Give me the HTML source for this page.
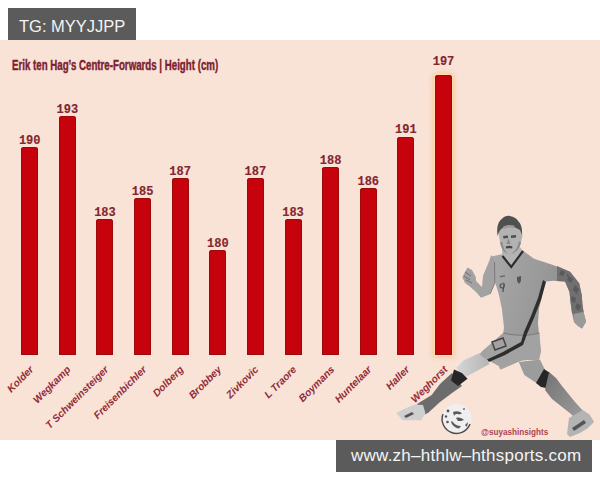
<!DOCTYPE html>
<html><head><meta charset="utf-8">
<style>
html,body{margin:0;padding:0;width:600px;height:480px;overflow:hidden;background:#fff;}
body{position:relative;font-family:"Liberation Sans",sans-serif;}
#bg{position:absolute;left:0;top:40px;width:600px;height:400px;background:#f9e2d6;overflow:hidden;}
.box{position:absolute;background:#5b5b5b;color:#f4f4f4;font-size:17px;line-height:32px;white-space:nowrap;}
#tg{left:8px;top:8px;width:128px;height:32px;}
#tg span{position:absolute;left:11px;top:1.5px;font-size:16.5px;}
#www{left:336px;top:440px;width:256px;height:32px;}
#www span{position:absolute;left:15px;top:0;letter-spacing:0.25px;}
.bar{position:absolute;width:17px;background:#c6020c;border-radius:3px 3px 0 0;box-shadow:inset 0 0 0 1px #9c0a0c;}
.glow{box-shadow:0 0 1px 1px rgba(255,225,170,1), 0 0 4px 2.5px rgba(255,195,150,0.85), inset 0 0 0 1px #9c0a0c;}
.val{position:absolute;width:30px;text-align:center;font-family:"Liberation Mono",monospace;font-weight:bold;font-size:12px;line-height:12px;color:#842630;-webkit-text-stroke:0.15px #842630;}
.nm{position:absolute;width:200px;text-align:right;font-weight:bold;font-style:italic;font-size:10.2px;line-height:10px;color:#922c38;transform-origin:100% 50%;transform:rotate(-45deg);white-space:nowrap;}
#title{position:absolute;left:12px;top:56.7px;font-weight:bold;font-size:14px;line-height:16px;color:#802030;-webkit-text-stroke:0.4px #7c2030;color:#7c2030;white-space:nowrap;transform-origin:0 0;transform:scaleX(0.693);}
#handle{position:absolute;left:480.5px;top:427px;font-weight:bold;font-size:9px;line-height:10px;color:#b0444f;white-space:nowrap;transform-origin:0 0;transform:scaleX(0.905);}
</style></head><body>
<div id="bg"></div>
<div id="title">Erik ten Hag’s Centre-Forwards | Height (cm)</div>
<div class="bar" style="left:21.20px;top:146.84px;height:208.16px"></div>
<div class="val" style="left:14.70px;top:134.64px">190</div>
<div class="nm" style="left:-168.30px;top:363.00px">Kolder</div>
<div class="bar" style="left:58.82px;top:115.95px;height:239.05px"></div>
<div class="val" style="left:52.32px;top:103.75px">193</div>
<div class="nm" style="left:-130.68px;top:363.00px">Wegkamp</div>
<div class="bar" style="left:96.44px;top:218.91px;height:136.09px"></div>
<div class="val" style="left:89.94px;top:206.71px">183</div>
<div class="nm" style="left:-93.06px;top:363.00px">T Schweinsteiger</div>
<div class="bar" style="left:134.06px;top:198.32px;height:156.68px"></div>
<div class="val" style="left:127.56px;top:186.12px">185</div>
<div class="nm" style="left:-55.44px;top:363.00px">Freisenbichler</div>
<div class="bar" style="left:171.68px;top:177.73px;height:177.27px"></div>
<div class="val" style="left:165.18px;top:165.53px">187</div>
<div class="nm" style="left:-17.82px;top:363.00px">Dolberg</div>
<div class="bar" style="left:209.30px;top:249.80px;height:105.20px"></div>
<div class="val" style="left:202.80px;top:237.60px">180</div>
<div class="nm" style="left:19.80px;top:363.00px">Brobbey</div>
<div class="bar" style="left:246.92px;top:177.73px;height:177.27px"></div>
<div class="val" style="left:240.42px;top:165.53px">187</div>
<div class="nm" style="left:57.42px;top:363.00px">Zivkovic</div>
<div class="bar" style="left:284.54px;top:218.91px;height:136.09px"></div>
<div class="val" style="left:278.04px;top:206.71px">183</div>
<div class="nm" style="left:95.04px;top:363.00px">L Traore</div>
<div class="bar" style="left:322.16px;top:167.43px;height:187.57px"></div>
<div class="val" style="left:315.66px;top:155.23px">188</div>
<div class="nm" style="left:132.66px;top:363.00px">Boymans</div>
<div class="bar" style="left:359.78px;top:188.02px;height:166.98px"></div>
<div class="val" style="left:353.28px;top:175.82px">186</div>
<div class="nm" style="left:170.28px;top:363.00px">Huntelaar</div>
<div class="bar" style="left:397.40px;top:136.54px;height:218.46px"></div>
<div class="val" style="left:390.90px;top:124.34px">191</div>
<div class="nm" style="left:207.90px;top:363.00px">Haller</div>
<div class="bar glow" style="left:435.02px;top:74.77px;height:280.23px"></div>
<div class="val" style="left:428.52px;top:56.47px">197</div>
<div class="nm" style="left:245.52px;top:363.00px">Weghorst</div>
<svg id="player" width="600" height="480" viewBox="0 0 600 480" style="position:absolute;left:0;top:0">
<defs>
<linearGradient id="thighL" x1="0" y1="0" x2="1" y2="0"><stop offset="0" stop-color="#d6d6d6"/><stop offset="1" stop-color="#b4b4b4"/></linearGradient>
<linearGradient id="shirt" x1="0" y1="0" x2="1" y2="0.3"><stop offset="0" stop-color="#ababab"/><stop offset="0.6" stop-color="#999999"/><stop offset="1" stop-color="#868686"/></linearGradient>
<linearGradient id="calfR" x1="0" y1="0" x2="1" y2="1"><stop offset="0" stop-color="#747474"/><stop offset="1" stop-color="#9e9e9e"/></linearGradient>
</defs>
<g stroke="none">
<!-- left shin + boot -->
<path fill="#6c6c6c" d="M452,373 L440,384 L431.7,395 L417,404 L421,416 L428,413 L440,402 L452,393 L462,386 Z"/>
<path fill="#cfcfcf" d="M415,404.6 L404,409 L396.25,413 L402.5,420.2 L421.25,420.2 L425.4,413 L423,405 Z"/>
<path fill="#555" d="M404,416 L412,412 L414,414 L406,418 Z"/>
<!-- left thigh -->
<path fill="url(#thighL)" d="M482,352 L463.8,360.3 L456.5,367.7 L462,378.7 L469.3,375 L489.5,364 Z"/>
<path fill="#262626" d="M454,369.5 L451,380.5 L458,386 L467.5,378.7 L462,373 Z"/>
<!-- right leg -->
<path fill="#9c9c9c" d="M518.8,362 L540,359.4 L545,370 L541,386 L535.3,382.3 L524.3,375 Z"/>
<path fill="#262626" d="M544,369 L550,373 L546,388 L541,387 L536,383 Z"/>
<path fill="url(#calfR)" d="M549,372 L556,378 L562,386 L575,402 L585,413 L578,421 L570.7,413.7 L552,399 L545,390 Z"/>
<path fill="#b4b4b4" d="M583,410 L590,415 L594,422 L588,428 L580,433 L570,437 L567,434 L569,418 Z"/>
<path fill="#555" d="M572,428 L584,420 L586,423 L574,431 Z"/>
<!-- torso + right arm -->
<path fill="url(#shirt)" d="M490.4,256.7 L502.9,254 L511.25,262 L522.7,250.4 L534,258.75 L553,265 L570,271.7 L579.2,283.3 L581.7,295 L582.5,305 L584,314 L586,321.7 L582,328.5 L578,326 L574,322 L572,313 L570.5,302 L569.5,292 L565,281.5 L553,280.8 L544.6,281.7 L542.5,294 L539,308.75 L538,323 L539,334.7 L540.8,351.2 L539,359.4 L522.5,360.3 L517,362.2 L500.5,369.5 L498.7,365.8 L486.75,359.4 L480.3,354.8 L482.2,351.2 L503,334.7 L504,327.5 L501.9,308.75 L498.75,294 L493.5,277.5 Z"/>
<path fill="#a2a2a2" d="M503,333 L482.2,351.2 L480.3,354.8 L486.75,359.4 L498.7,365.8 L500.5,369.5 L517,362.2 L522.5,360.3 L539,359.4 L540.8,351.2 L539.5,333 C530,336 515,336 503,333 Z"/>
<path fill="none" stroke="#7a7a7a" stroke-width="1" d="M503.5,333 C515,336 530,336 539.5,333"/>
<!-- tattoo arm shading -->
<path fill="#707070" d="M557,266 L570,271.7 L579.2,283.3 L581.7,295 L582.5,305 L583.5,312 L574,314 L572,313 L570.5,302 L569.5,292 L565,281.5 L557,281 Z"/>
<path fill="#5a5a5a" d="M561,270 L565,272 L563,276 L559,275 Z M569,276 L573,279 L571,283 L567,280 Z M575,285 L579,289 L577,294 L573,290 Z M572,296 L576,298 L575,303 L571,301 Z M577,303 L581,306 L579,311 L575,308 Z M566,274 L569,275 L568,278 Z"/>
<path fill="#9a9a9a" d="M574,314 L583.5,312 L586,321.7 L582,328.5 L578,326 L574,322 Z"/>
<!-- left arm -->
<path fill="#a2a2a2" d="M491.5,255 L488.3,263.3 L483,275.8 L482,287 L476,281 L475.8,277 L472,270 L467.5,267.5 L462.3,277 L465,283 L469.6,286.25 L476,292 L481,297.7 L489.4,294.6 L494.6,283 L495,262 Z"/>
<path fill="none" stroke="#7a7a7a" stroke-width="1" d="M494.5,262 L494.8,283 L490,294"/>
<path fill="none" stroke="#6a6a6a" stroke-width="0.9" d="M465,272 L471,276 M464,276 L470,280 M466,280 L472,283"/>
<!-- shirt details -->
<path fill="none" stroke="#555" stroke-width="1.3" d="M503,284 C500,283 499,287 502,288 C504,288 505,286 504,284 L503,292"/>
<path fill="#555" d="M517,277 L521,276 L521,281 L519,284 L517,281 Z"/>
<path fill="#6a6a6a" d="M500,276 L505,275 L505,276.5 L500,277.5 Z"/>
<!-- side stripe -->
<path fill="#2e2e2e" d="M543,280 L546,282 L541,300 L534,318 L527,334 L523,345 L505,355 L489,362 L487,359.5 L503,352 L521,342 L524,332 L531,316 L538,298 Z"/>
<!-- number patch -->
<path fill="none" stroke="#444" stroke-width="1.5" d="M492,342 L503,338 L506,346 L495,350 Z"/>
<!-- neck -->
<path fill="#b4b4b4" d="M502,248 L519,246 L523,251 L511.25,266 L502,255 Z"/>
<path fill="none" stroke="#2e2e2e" stroke-width="2.2" d="M502.5,256 L511.25,267 L523,251"/>
<!-- head -->
<path fill="#b2b2b2" d="M497.9,231 C498,224 503,221 510,221 C517,221 521,225 521.5,231 L522.5,236 L521,242 C520,249 515,254 509.1,254.5 C504,254 501,249 500.1,241.7 Z"/>
<path fill="#8c8c8c" d="M500,242 C501,248 504,253 509,254.5 C505,252 503,247 502.5,242 Z M519,241 C518,247 515,252 511,254 C516,253 520,248 521,242 Z"/>
<path fill="#505050" d="M497.5,236 C496.5,228 498,222 501.2,219.5 C504,216.5 507,215.5 509.7,215.9 C514,216.5 517,218.5 518.5,221.5 C521,224 522.5,228 522,235 L520,230 C516,227 511,226 505,227 C501,228 499,231 497.5,236 Z"/>
<path fill="#9a9a9a" d="M503,226.5 C506,225 510,224.5 514,225.5 L515,228 C511,227 507,227.5 504,229 Z"/>
<path fill="#4e4e4e" d="M503,236 L508,235.5 L508,238 L503.5,238.5 Z M511,235.5 L516,235 L516,237.5 L511,238 Z"/>
<path fill="#8a8a8a" d="M508.5,238 L510.5,244 L506.5,244 Z"/>
<path fill="#454545" d="M505.7,246.5 C508,245.5 511,245.5 512.5,246.5 L512,248.5 C510,248 508,248 506,248.5 Z"/>
<!-- ball -->
<circle cx="456.8" cy="418.7" r="14.8" fill="#efefef"/>
<path fill="none" stroke="#4a4a4a" stroke-width="1.4" d="M443,414 A14.2,14.2 0 0 0 470,424"/>
<path fill="#5a5a5a" d="M453,412 C456,410.5 460,411 462,413.5 L459,414.5 C457,413.5 455,414 454,416 Z M456,418 C459,417 462,418 464,420 C462,421 460,421 458,421 Z M452,421 C454,424 457,426 461,426 L459,428.5 C455,428 452,425 451,422 Z M465,425 L468,422 L467,427 Z"/>
<circle cx="448" cy="411" r="1.4" fill="#555"/>
<circle cx="446" cy="416.5" r="1.2" fill="#555"/>
<circle cx="447.5" cy="422" r="1.3" fill="#555"/>
<circle cx="464" cy="409" r="1.1" fill="#777"/>
</g></svg>
<div id="handle">@suyashinsights</div>
<div class="box" id="tg"><span>TG: MYYJJPP</span></div>
<div class="box" id="www"><span>www.zh–hthlw–hthsports.com</span></div>
</body></html>
